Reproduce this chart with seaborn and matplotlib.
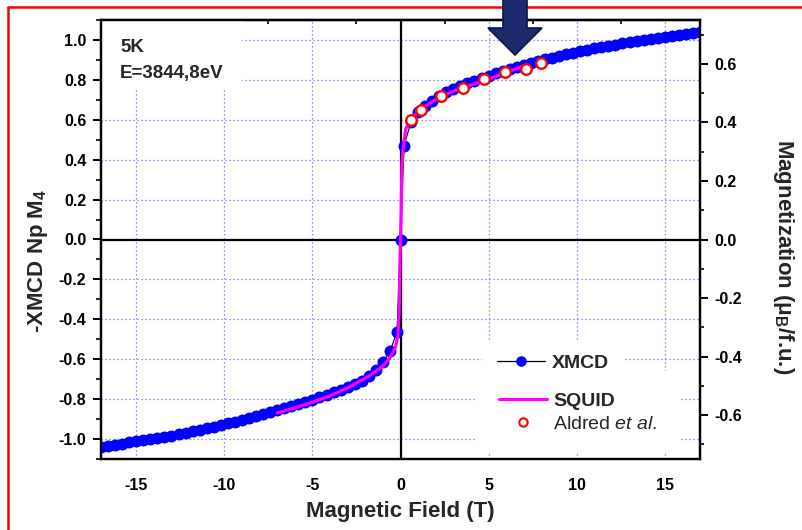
import matplotlib
matplotlib.use("Agg")
import numpy as np
import pandas as pd
import seaborn as sns
import matplotlib.pyplot as plt
from matplotlib.lines import Line2D
from matplotlib.patches import Polygon, Rectangle
from matplotlib.ticker import MultipleLocator, FormatStrFormatter

# ---- XMCD hysteresis at the Np M4 edge (left axis) ----
xmcd_field = [
    -17.0, -16.6, -16.2, -15.8, -15.4, -15.0, -14.6, -14.2, -13.8, -13.4,
    -13.0, -12.6, -12.2, -11.8, -11.4, -11.0, -10.6, -10.2, -9.8, -9.4,
    -9.0, -8.6, -8.2, -7.8, -7.4, -7.0, -6.6, -6.2, -5.8, -5.4,
    -5.0, -4.6, -4.2, -3.8, -3.4, -3.0, -2.6, -2.2, -1.8, -1.4,
    -1.0, -0.6, -0.2, 0.0, 0.2, 0.6, 1.0, 1.4, 1.8, 2.2,
    2.6, 3.0, 3.4, 3.8, 4.2, 4.6, 5.0, 5.4, 5.8, 6.2,
    6.6, 7.0, 7.4, 7.8, 8.2, 8.6, 9.0, 9.4, 9.8, 10.2,
    10.6, 11.0, 11.4, 11.8, 12.2, 12.6, 13.0, 13.4, 13.8, 14.2,
    14.6, 15.0, 15.4, 15.8, 16.2, 16.6, 17.0,
]
xmcd_signal = [
    -1.038, -1.033, -1.028, -1.023, -1.017, -1.012, -1.006, -1.001, -0.995, -0.989,
    -0.983, -0.976, -0.969, -0.962, -0.955, -0.947, -0.939, -0.931, -0.922, -0.913,
    -0.903, -0.893, -0.884, -0.874, -0.865, -0.855, -0.845, -0.835, -0.825, -0.814,
    -0.803, -0.791, -0.779, -0.766, -0.753, -0.740, -0.726, -0.708, -0.685, -0.655,
    -0.615, -0.560, -0.465, 0.000, 0.470, 0.590, 0.640, 0.670, 0.696, 0.718,
    0.737, 0.754, 0.769, 0.783, 0.796, 0.809, 0.821, 0.833, 0.844, 0.855,
    0.865, 0.875, 0.885, 0.894, 0.903, 0.912, 0.920, 0.928, 0.936, 0.944,
    0.951, 0.958, 0.965, 0.971, 0.977, 0.983, 0.989, 0.995, 1.000, 1.006,
    1.011, 1.016, 1.021, 1.026, 1.031, 1.036, 1.040,
]

# ---- SQUID magnetization (right axis, muB per formula unit) ----
squid_field = [
    -7.0, -6.0, -5.0, -4.0, -3.0, -2.0, -1.5, -1.0, -0.6, -0.3,
    -0.15, -0.08, -0.04, 0.0, 0.04, 0.08, 0.15, 0.3, 0.6, 1.0,
    1.5, 2.0, 2.5, 3.0, 4.0, 5.0, 6.0, 7.0,
]
squid_moment = [
    -0.593, -0.575, -0.556, -0.534, -0.507, -0.474, -0.455, -0.432, -0.405, -0.370,
    -0.330, -0.250, -0.100, 0.000, 0.100, 0.250, 0.310, 0.378, 0.412, 0.437,
    0.459, 0.478, 0.493, 0.507, 0.528, 0.548, 0.570, 0.594,
]

# ---- Aldred et al. magnetization (right axis) ----
aldred_field = [0.57, 1.18, 2.31, 3.54, 4.73, 5.93, 7.10, 7.95]
aldred_moment = [0.407, 0.443, 0.489, 0.518, 0.547, 0.571, 0.582, 0.602]

xmcd_df = pd.DataFrame({"field": xmcd_field, "signal": xmcd_signal})
squid_df = pd.DataFrame({"field": squid_field, "moment": squid_moment})
aldred_df = pd.DataFrame({"field": aldred_field, "moment": aldred_moment})

sns.set_theme(style="white")
plt.rcParams.update({
    "font.family": ["Liberation Sans", "DejaVu Sans"],
    "font.weight": "bold",
    "axes.unicode_minus": False,
    "mathtext.fontset": "custom",
    "mathtext.rm": "Liberation Sans:bold",
    "mathtext.bf": "Liberation Sans:bold",
    "mathtext.it": "Liberation Sans:italic:weight=normal",
    "axes.edgecolor": "black",
    "axes.linewidth": 1.6,
    "xtick.color": "black",
    "ytick.color": "black",
})

W, H = 802, 530
fig = plt.figure(figsize=(W / 100, H / 100), dpi=100)
fig.patch.set_facecolor("white")
ax = fig.add_axes([101 / W, 71 / H, 599 / W, 439 / H])
ax.set_xlim(-17, 17)
ax.set_ylim(-1.1, 1.1)
ax.set_axisbelow(True)
ax.grid(True, which="major", color="#6b6bff", linestyle=(0, (1, 2.2)), linewidth=0.9)

# white panel behind the temperature / energy annotation
ax.add_patch(Rectangle((0, 0.84), 0.235, 0.16, transform=ax.transAxes,
                       facecolor="white", edgecolor="none", zorder=1))

ax.axhline(0, color="black", lw=1.6, zorder=1.5)
ax.axvline(0, color="black", lw=1.6, zorder=1.5)

sns.lineplot(data=xmcd_df, x="field", y="signal", ax=ax, sort=False, estimator=None,
             color="black", lw=0.8, marker="o", markersize=8.6,
             markerfacecolor="#0000ff", markeredgecolor="#0000ff",
             markeredgewidth=0, zorder=3)

ax2 = ax.twinx()
ax2.set_ylim(-0.75, 0.75)
sns.lineplot(data=squid_df, x="field", y="moment", ax=ax2, sort=False, estimator=None,
             color="#ff00ff", lw=2.3, zorder=3)
sns.scatterplot(data=aldred_df, x="field", y="moment", ax=ax2, marker="o", s=58,
                color="white", edgecolor="#ff0000", linewidth=1.7, zorder=4)

# ticks
ax.xaxis.set_major_locator(MultipleLocator(5))
ax.xaxis.set_minor_locator(MultipleLocator(2.5))
ax.yaxis.set_major_locator(MultipleLocator(0.2))
ax.yaxis.set_minor_locator(MultipleLocator(0.1))
ax.yaxis.set_major_formatter(FormatStrFormatter("%.1f"))
ax.xaxis.set_major_formatter(FormatStrFormatter("%d"))
ax.tick_params(axis="both", which="major", direction="out", length=5.5, width=1.4,
               labelsize=11.5, right=False, top=False)
ax.tick_params(axis="both", which="minor", direction="out", length=3.5, width=1.2,
               right=False, top=False)
ax.tick_params(axis="x", which="major", pad=8)
ax.tick_params(axis="y", which="major", pad=5)

ax2.yaxis.set_major_locator(MultipleLocator(0.2))
ax2.yaxis.set_minor_locator(MultipleLocator(0.1))
ax2.yaxis.set_major_formatter(FormatStrFormatter("%.1f"))
ax2.tick_params(axis="y", which="major", direction="out", length=6, width=1.4,
                labelsize=11.5, pad=4)
ax2.tick_params(axis="y", which="minor", direction="out", length=3, width=1.2)

top = ax.secondary_xaxis("top")
top.set_xticks([-12.5, -7.5, -2.5, 2.5, 7.5, 12.5])
top.tick_params(direction="in", length=3, width=1.2, labeltop=False)

# axis titles
ax.set_xlabel("Magnetic Field (T)", fontsize=16, fontweight="bold", labelpad=6)
ax.set_ylabel(r"-XMCD Np M$_\mathbf{4}$", fontsize=16, fontweight="bold")
ax.yaxis.set_label_coords(-0.085, 0.451)
ax2.set_ylabel(r"Magnetization (μ$_\mathbf{B}$/f.u.)", fontsize=16, fontweight="bold",
               rotation=270, va="bottom")
ax2.yaxis.set_label_coords(1.1185, 0.461)

# annotation
ax.text(0.0317, 0.927, "5K", transform=ax.transAxes, fontsize=13.5,
        fontweight="bold", va="baseline", zorder=6)
ax.text(0.0317, 0.868, "E=3844,8eV", transform=ax.transAxes, fontsize=13.5,
        fontweight="bold", va="baseline", zorder=6)

# legends
h_xmcd = Line2D([], [], color="black", lw=0.9, marker="o", markersize=7.6,
                markerfacecolor="#0000ff", markeredgecolor="#0000ff", markeredgewidth=0)
h_squid = Line2D([], [], color="#ff00ff", lw=2.3)
h_aldred = Line2D([], [], linestyle="none", marker="o", markersize=6,
                  markerfacecolor="white", markeredgecolor="#ff0000", markeredgewidth=1.5)

leg2 = ax2.legend([h_squid, h_aldred], ["SQUID", r"Aldred $\mathit{et\ al}$."],
                  loc="center left", bbox_to_anchor=(0.628, 0.106),
                  prop={"size": 14, "weight": "bold"}, frameon=True, fancybox=False,
                  facecolor="white", edgecolor="none", framealpha=1,
                  handlelength=2.5, handletextpad=0.3, borderpad=1.1,
                  labelspacing=0.3, borderaxespad=0)
leg2.get_texts()[1].set_fontweight("normal")
leg2.set_zorder(8)
ax2.add_artist(leg2)

leg1 = ax2.legend([h_xmcd], ["XMCD"], loc="center left", bbox_to_anchor=(0.636, 0.218),
                  prop={"size": 14, "weight": "bold"}, frameon=True, fancybox=False,
                  facecolor="white", edgecolor="none", framealpha=1,
                  handlelength=2.5, handletextpad=0.35, borderpad=0.75,
                  borderaxespad=0)
leg1.set_zorder(9)

# page frame
fig.add_artist(Line2D([8 / W, 8 / W], [0, 1 - 7 / H], color="#ff0000", lw=1.8,
                      transform=fig.transFigure))
fig.add_artist(Line2D([8 / W, 1], [1 - 7 / H, 1 - 7 / H], color="#ff0000", lw=1.8,
                      transform=fig.transFigure))

# downward arrow marking the field of interest
arrow_px = [(503, -2), (527, -2), (527, 28), (542, 28), (515, 55), (488, 28), (503, 28)]
fig.add_artist(Polygon([(x / W, 1 - y / H) for x, y in arrow_px], closed=True,
                       facecolor="#1c2b6e", edgecolor="#0c1645", lw=1.2,
                       transform=fig.transFigure, zorder=10))

fig.savefig("out.png", dpi=100, facecolor="white")
